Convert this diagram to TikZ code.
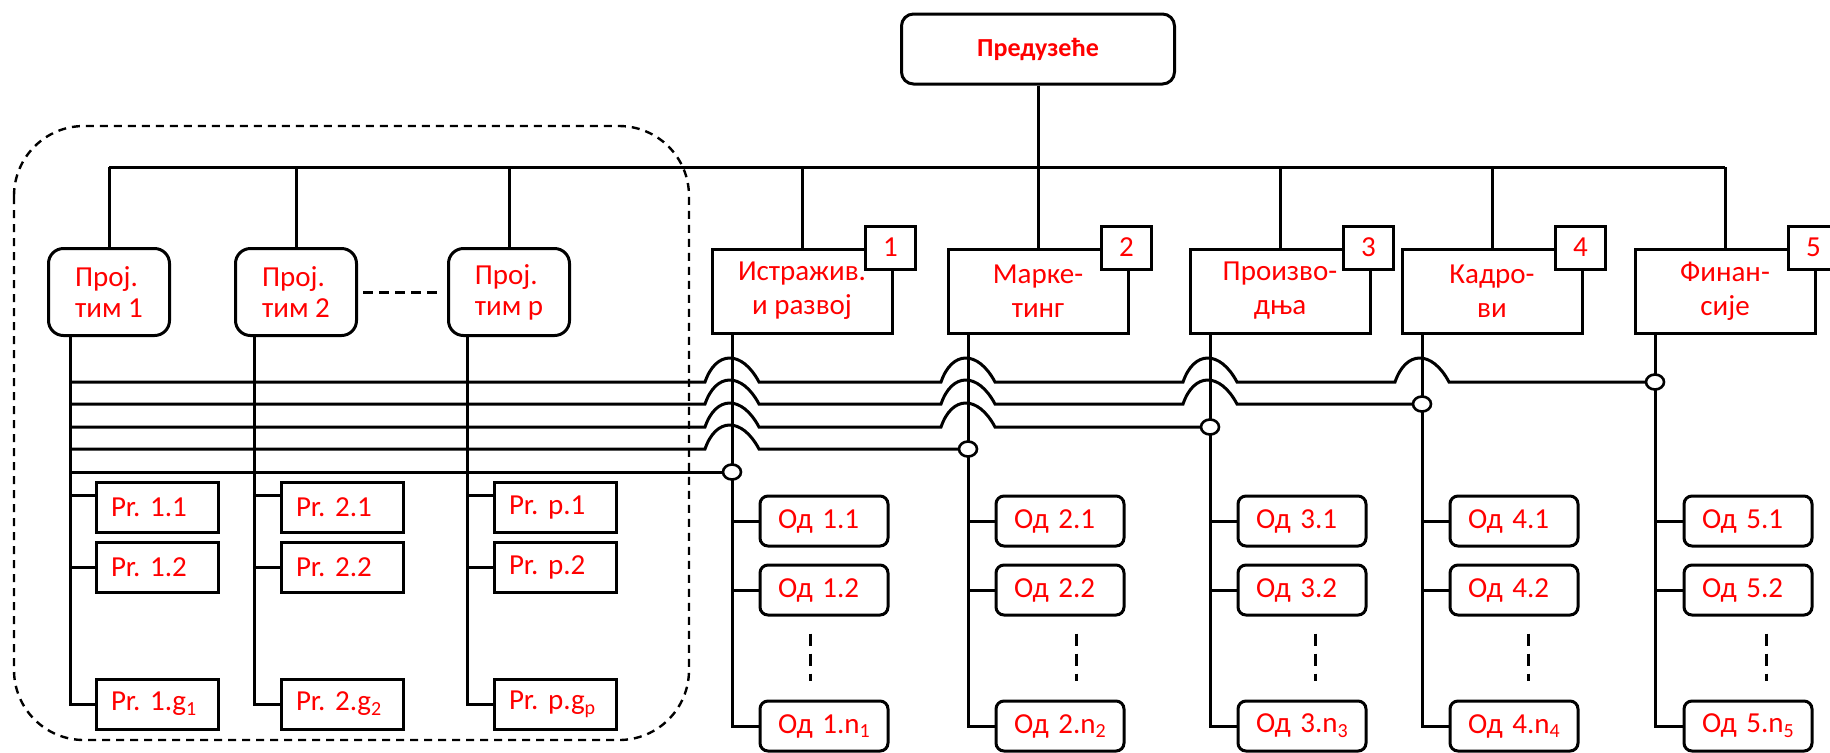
\documentclass[tikz,border=0pt]{standalone}
\usepackage{fontspec}
\setmainfont{Carlito}
\usetikzlibrary{positioning,shapes.geometric,calc}
\newcommand{\idx}[1]{\raisebox{-0.35ex}{\fontsize{10}{10}\selectfont #1}}
\tikzset{
	x=0.5pt, y=-0.5pt, % one unit = one pixel of the picture
	every node/.style={font=\fontsize{14.5}{17}\selectfont\frenchspacing, text=red},
	line/.style={line width=1.5pt},
	firm/.style={draw, line width=1.5pt, rounded corners=6pt, minimum width=136.5pt, minimum height=35pt, font=\fontsize{13}{15}\selectfont\bfseries},
	team/.style={draw, line width=1.5pt, rounded corners=7.5pt, minimum width=60.5pt, minimum height=43.5pt, align=left, font=\fontsize{14.5}{15.5}\selectfont},
	dept/.style={draw, line width=1.5pt, minimum width=90pt, minimum height=42pt, align=center},
	num/.style={draw, fill=white, line width=1.5pt, minimum width=25pt, minimum height=21.5pt, inner sep=0pt},
	group/.style={draw, line width=1.5pt, minimum height=25pt, text width=46pt, inner xsep=7.5pt, align=left},
	unit/.style={group, rounded corners=4pt, text width=46pt, inner xsep=9pt},
	junc/.style={draw, fill=white, ellipse, line width=1.3pt, minimum width=9pt, minimum height=7.5pt, inner sep=0pt},
	frame/.style={line width=1.2pt, dash pattern=on 4pt off 3pt, rounded corners=35pt},
	dots/.style={line width=1.5pt, dash pattern=on 6pt off 4pt},
}
\begin{document}
\begin{tikzpicture}
	\useasboundingbox (0,0) rectangle (1830,752);

	% project area
	\draw[frame] (14,126) rectangle (689,740);

	\node[firm] (firm) at (1038,49) {Предузеће};
	\coordinate (bus) at (1038,167);

	\node[team] (t1) at (109,292) {Прој.\\тим 1};
	\node[team] (t2) at (296,292) {Прој.\\тим 2};
	\node[team] (tp) at (509,292) {Прој.\\тим p};

	\node[dept] (d1) at (802,291)  {Истражив.\\и развој};
	\node[dept] (d2) at (1038,291) {Марке-\\тинг};
	\node[dept] (d3) at (1280,291) {Произво-\\дња};
	\node[dept] (d4) at (1492,291) {Кадро-\\ви};
	\node[dept] (d5) at (1725,291) {Финан-\\сије};

	\node[num] (n1) at ([xshift=-1.5pt]d1.north east) {1};
	\node[num] (n2) at ([xshift=-1.5pt]d2.north east) {2};
	\node[num] (n3) at ([xshift=-1.5pt]d3.north east) {3};
	\node[num] (n4) at ([xshift=-1.5pt]d4.north east) {4};
	\node[num] (n5) at ([xshift=-1.5pt]d5.north east) {5};

	\node[group] (p11) at (157,507) {Pr. 1.1};
	\node[group] (p12) at (157,567) {Pr. 1.2};
	\node[group] (p1g) at (157,704) {Pr. 1.g\idx{1}};
	\node[group] (p21) at (342,507) {Pr. 2.1};
	\node[group] (p22) at (342,567) {Pr. 2.2};
	\node[group] (p2g) at (342,704) {Pr. 2.g\idx{2}};
	\node[group] (pp1) at (555,507) {Pr. p.1};
	\node[group] (pp2) at (555,567) {Pr. p.2};
	\node[group] (ppg) at (555,704) {Pr. p.g\idx{p}};

	\node[unit] (o11) at (824,521) {Од 1.1};
	\node[unit] (o12) at (824,590) {Од 1.2};
	\node[unit] (o1n) at (824,726) {Од 1.n\idx{1}};
	\node[unit] (o21) at (1060,521) {Од 2.1};
	\node[unit] (o22) at (1060,590) {Од 2.2};
	\node[unit] (o2n) at (1060,726) {Од 2.n\idx{2}};
	\node[unit] (o31) at (1302,521) {Од 3.1};
	\node[unit] (o32) at (1302,590) {Од 3.2};
	\node[unit] (o3n) at (1302,726) {Од 3.n\idx{3}};
	\node[unit] (o41) at (1514,521) {Од 4.1};
	\node[unit] (o42) at (1514,590) {Од 4.2};
	\node[unit] (o4n) at (1514,726) {Од 4.n\idx{4}};
	\node[unit] (o51) at (1748,521) {Од 5.1};
	\node[unit] (o52) at (1748,590) {Од 5.2};
	\node[unit] (o5n) at (1748,726) {Од 5.n\idx{5}};

	% tree from the top
	\draw[line] (firm.south) -- (bus);
	\draw[line] (t1.north |- bus) -- (d5.north |- bus);
	\draw[line] (t1.north) -- (t1.north |- bus);
	\draw[line] (t2.north) -- (t2.north |- bus);
	\draw[line] (tp.north) -- (tp.north |- bus);
	\draw[line] (d1.north) -- (d1.north |- bus);
	\draw[line] (d2.north) -- (d2.north |- bus);
	\draw[line] (d3.north) -- (d3.north |- bus);
	\draw[line] (d4.north) -- (d4.north |- bus);
	\draw[line] (d5.north) -- (d5.north |- bus);
	\draw[line, dash pattern=on 5pt off 3pt] ([xshift=2.5pt]t2.east) -- ([xshift=-3pt]tp.west);

	% project teams
	\coordinate (tv1) at (70,0);
	\coordinate (tv2) at (254,0);
	\coordinate (tvp) at (467,0);
	\draw[line] (t1.south -| tv1) |- (p1g.west);
	\draw[line] ([yshift=6pt]p11.west) -- ([yshift=6pt]p11.west -| tv1);
	\draw[line] (p12.west) -- (p12.west -| tv1);
	\draw[line] (t2.south -| tv2) |- (p2g.west);
	\draw[line] ([yshift=6pt]p21.west) -- ([yshift=6pt]p21.west -| tv2);
	\draw[line] (p22.west) -- (p22.west -| tv2);
	\draw[line] (tp.south -| tvp) |- (ppg.west);
	\draw[line] ([yshift=6pt]pp1.west) -- ([yshift=6pt]pp1.west -| tvp);
	\draw[line] (pp2.west) -- (pp2.west -| tvp);

	% departments
	\coordinate (c1) at (732,472);
	\coordinate (c2) at (968,449);
	\coordinate (c3) at (1210,427);
	\coordinate (c4) at (1422,404);
	\coordinate (c5) at (1655,382);
	\draw[line] (d1.south -| c1) |- (o1n.west);
	\draw[line] (o11.west) -- (o11.west -| c1);
	\draw[line] (o12.west) -- (o12.west -| c1);
	\draw[line] (d2.south -| c2) |- (o2n.west);
	\draw[line] (o21.west) -- (o21.west -| c2);
	\draw[line] (o22.west) -- (o22.west -| c2);
	\draw[line] (d3.south -| c3) |- (o3n.west);
	\draw[line] (o31.west) -- (o31.west -| c3);
	\draw[line] (o32.west) -- (o32.west -| c3);
	\draw[line] (d4.south -| c4) |- (o4n.west);
	\draw[line] (o41.west) -- (o41.west -| c4);
	\draw[line] (o42.west) -- (o42.west -| c4);
	\draw[line] (d5.south -| c5) |- (o5n.west);
	\draw[line] (o51.west) -- (o51.west -| c5);
	\draw[line] (o52.west) -- (o52.west -| c5);

	\draw[dots] ($(o12.south)+(-14,17)$) -- ++(0,47);
	\draw[dots] ($(o22.south)+(16,17)$) -- ++(0,47);
	\draw[dots] ($(o32.south)+(13,17)$) -- ++(0,47);
	\draw[dots] ($(o42.south)+(14,17)$) -- ++(0,47);
	\draw[dots] ($(o52.south)+(18,17)$) -- ++(0,47);

	% matrix links, with hops
	\coordinate (h5) at (70,382);
	\coordinate (h4) at (70,404);
	\coordinate (h3) at (70,427);
	\coordinate (h2) at (70,449);
	\coordinate (h1) at (70,472);
	\draw[line] (h5) foreach \x in {732,968,1210,1422} {-- (\x-27,382) .. controls (\x-16,350) and (\x+10,350) .. (\x+27,382)} -- (c5);
	\draw[line] (h4) foreach \x in {732,968,1210} {-- (\x-27,404) .. controls (\x-16,372) and (\x+10,372) .. (\x+27,404)} -- (c4);
	\draw[line] (h3) foreach \x in {732,968} {-- (\x-27,427) .. controls (\x-16,395) and (\x+10,395) .. (\x+27,427)} -- (c3);
	\draw[line] (h2) -- (705,449) .. controls (716,417) and (742,417) .. (759,449) -- (c2);
	\draw[line] (h1) -- (c1);

	\node[junc] (j1) at (c1) {};
	\node[junc] (j2) at (c2) {};
	\node[junc] (j3) at (c3) {};
	\node[junc] (j4) at (c4) {};
	\node[junc] (j5) at (c5) {};
\end{tikzpicture}
\end{document}
